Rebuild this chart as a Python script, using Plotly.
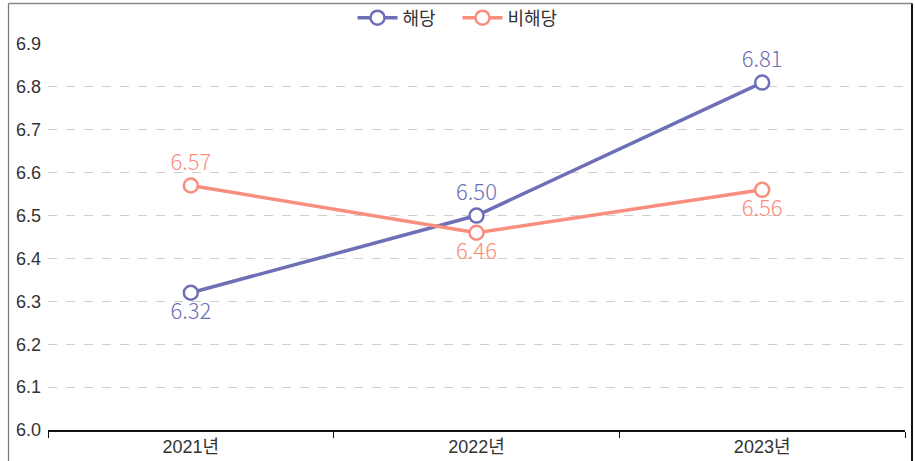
import plotly.graph_objects as go

years = ["2021년", "2022년", "2023년"]
applicable = [6.32, 6.50, 6.81]
non_applicable = [6.57, 6.46, 6.56]
y_ticks = [6.0, 6.1, 6.2, 6.3, 6.4, 6.5, 6.6, 6.7, 6.8, 6.9]

PURPLE = "#6d70b6"
SALMON = "#f88e7e"
LABEL_FONT = "Noto Sans CJK KR"
AXIS_FONT = "Liberation Sans, Noto Sans CJK KR"

fig = go.Figure()

fig.add_trace(go.Scatter(
    x=years, y=applicable, name="해당", mode="lines+markers+text",
    line=dict(color=PURPLE, width=3.5),
    marker=dict(size=14, color="white", line=dict(color=PURPLE, width=2.5)),
    text=[f"{v:.2f}" for v in applicable],
    textposition=["bottom center", "top center", "top center"],
    textfont=dict(family=LABEL_FONT, size=22, color=PURPLE, weight=300),
    cliponaxis=False,
))
fig.add_trace(go.Scatter(
    x=years, y=non_applicable, name="비해당", mode="lines+markers+text",
    line=dict(color=SALMON, width=3.5),
    marker=dict(size=14, color="white", line=dict(color=SALMON, width=2.5)),
    text=[f"{v:.2f}" for v in non_applicable],
    textposition=["top center", "bottom center", "bottom center"],
    textfont=dict(family=LABEL_FONT, size=22, color=SALMON, weight=300),
    cliponaxis=False,
))

# outer frame around the figure
W, H = 857, 386
L, B = 48, 31
def px_x(p):
    return (p - L) / W
def px_y(p):
    return (461 - B - p) / H

fig.add_shape(type="line", xref="paper", yref="paper",
              x0=px_x(8.5), x1=px_x(8.5), y0=px_y(3.5), y1=px_y(461),
              line=dict(color="#777777", width=1.2))
fig.add_shape(type="line", xref="paper", yref="paper",
              x0=px_x(8.5), x1=px_x(912), y0=px_y(3.5), y1=px_y(3.5),
              line=dict(color="#888888", width=1.5))
fig.add_shape(type="line", xref="paper", yref="paper",
              x0=px_x(912), x1=px_x(912), y0=px_y(3.5), y1=px_y(461),
              line=dict(color="#111111", width=2))

fig.update_layout(
    width=915, height=461,
    margin=dict(l=L, r=915 - L - W, t=461 - B - H, b=B, autoexpand=False),
    paper_bgcolor="white", plot_bgcolor="white",
    font=dict(family=AXIS_FONT, size=18, color="#333333"),
    showlegend=True,
    legend=dict(orientation="h", x=0.5, xanchor="center", xref="container",
                y=1 - 18 / 461, yanchor="middle", yref="container",
                font=dict(family=LABEL_FONT, size=18, color="#333333"),
                itemwidth=40, entrywidth=50, entrywidthmode="pixels",
                bgcolor="rgba(0,0,0,0)"),
    xaxis=dict(
        type="category", range=[-0.5, 2.5], tickson="boundaries",
        ticks="outside", ticklen=6, tickcolor="#111111", tickwidth=1.2,
        showline=True, linecolor="#111111", linewidth=1.5,
        showgrid=False, zeroline=False,
        tickfont=dict(size=18, color="#333333"),
    ),
    yaxis=dict(
        range=[6.0, 6.9], tickmode="array", tickvals=y_ticks,
        ticktext=[f"{v:.1f}" for v in y_ticks],
        showgrid=True, gridcolor="#cfcfcf", griddash="dash", gridwidth=1,
        zeroline=False, showline=False, ticks="",
        ticklabelstandoff=6,
        tickfont=dict(size=18, color="#333333"),
    ),
)

fig.write_html("out.html")
